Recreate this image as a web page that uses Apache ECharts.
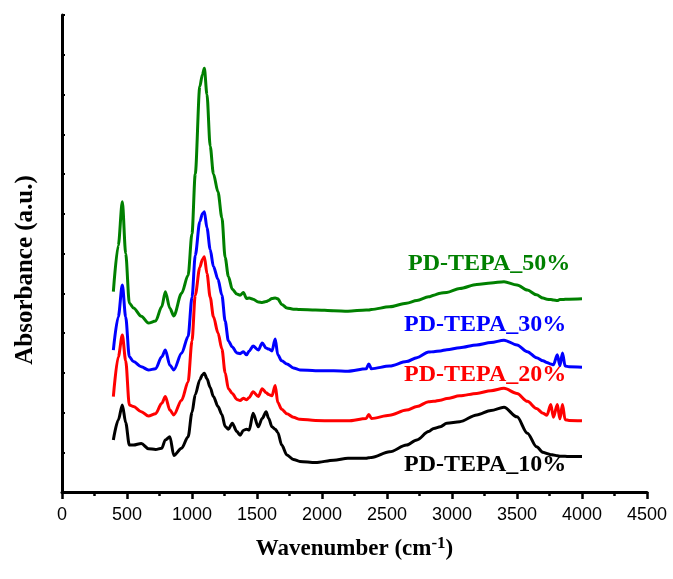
<!DOCTYPE html>
<html>
<head>
<meta charset="utf-8">
<script src="https://cdn.jsdelivr.net/npm/echarts@6/dist/echarts.min.js"></script>
<style>
  html, body { margin: 0; padding: 0; background: #fff; }
  #chart { width: 673px; height: 579px; }
</style>
</head>
<body>
<div id="chart"></div>
<script>
// wavenumbers (cm-1), shared by all four spectra
const wavenumber = [395, 433, 464, 490, 518, 550, 610, 665, 720, 767, 795, 830, 860, 920, 970,
  1000, 1025, 1060, 1080, 1095, 1115, 1140, 1165, 1200, 1230, 1255, 1280, 1310, 1345, 1370,
  1395, 1420, 1440, 1470, 1510, 1540, 1570, 1590, 1615, 1640, 1660, 1690, 1730, 1780, 1830,
  1950, 2090, 2200, 2340, 2360, 2380, 2520, 2650, 2730, 2820, 2860, 2910, 2960, 3060, 3190,
  3300, 3400, 3500, 3580, 3650, 3700, 3730, 3760, 3780, 3810, 3830, 3850, 3870, 3900, 4000];

// absorbance (arbitrary units, curves offset)
const tepa50 = [5.04, 6.2, 7.30, 6.0, 4.75, 4.63, 4.42, 4.25, 4.30, 4.66, 5.04, 4.62, 4.43, 5.0, 5.45,
  6.5, 8.0, 10.2, 10.5, 10.66, 10.0, 8.7, 8.0, 7.55, 6.9, 5.9, 5.42, 5.1, 4.98, 4.95,
  5.02, 4.87, 4.88, 4.85, 4.78, 4.77, 4.79, 4.82, 4.87, 4.88, 4.86, 4.72, 4.63, 4.60, 4.59,
  4.58, 4.56, 4.55, 4.58, 4.58, 4.59, 4.66, 4.75, 4.82, 4.91, 4.95, 5.0, 5.02, 5.12, 5.22,
  5.26, 5.29, 5.21, 5.08, 4.96, 4.88, 4.85, 4.84, 4.83, 4.82, 4.84, 4.84, 4.85, 4.85, 4.86];

const tepa30 = [3.57, 4.41, 5.21, 4.4, 3.40, 3.28, 3.15, 3.07, 3.10, 3.40, 3.57, 3.19, 3.07, 3.49, 3.91,
  4.9, 5.95, 6.8, 7.0, 7.05, 6.65, 6.1, 5.67, 5.35, 4.95, 4.3, 3.8, 3.65, 3.5, 3.48,
  3.53, 3.45, 3.55, 3.67, 3.57, 3.75, 3.62, 3.6, 3.55, 3.85, 3.45, 3.30, 3.22, 3.12, 3.07,
  3.05, 3.05, 3.04, 3.10, 3.22, 3.10, 3.17, 3.28, 3.38, 3.52, 3.53, 3.55, 3.58, 3.63, 3.70,
  3.76, 3.82, 3.70, 3.53, 3.38, 3.30, 3.26, 3.22, 3.20, 3.45, 3.18, 3.50, 3.17, 3.15, 3.14];

const tepa20 = [2.40, 3.40, 3.95, 3.3, 2.19, 2.15, 2.02, 1.91, 1.97, 2.23, 2.40, 2.06, 1.94, 2.31, 2.77,
  3.8, 4.95, 5.65, 5.85, 5.92, 5.5, 4.9, 4.41, 4.0, 3.6, 3.0, 2.6, 2.48, 2.33, 2.3,
  2.36, 2.32, 2.38, 2.52, 2.40, 2.6, 2.5, 2.45, 2.42, 2.68, 2.25, 2.08, 1.97, 1.88, 1.83,
  1.80, 1.79, 1.79, 1.85, 1.95, 1.85, 1.93, 2.06, 2.15, 2.27, 2.28, 2.31, 2.35, 2.42, 2.48,
  2.55, 2.61, 2.48, 2.28, 2.1, 1.98, 1.93, 2.2, 1.88, 2.2, 1.84, 2.2, 1.82, 1.80, 1.79];

const tepa10 = [1.31, 1.81, 2.19, 1.75, 1.18, 1.18, 1.22, 1.09, 1.07, 1.10, 1.31, 1.39, 0.92, 1.10, 1.39,
  2.0, 2.45, 2.82, 2.95, 2.99, 2.85, 2.63, 2.4, 2.15, 1.95, 1.65, 1.58, 1.73, 1.52, 1.43,
  1.55, 1.58, 1.56, 1.98, 1.64, 1.85, 2.02, 1.85, 1.64, 1.58, 1.50, 1.18, 0.93, 0.82, 0.77,
  0.74, 0.80, 0.85, 0.85, 0.86, 0.87, 1.01, 1.18, 1.31, 1.52, 1.60, 1.64, 1.73, 1.77, 1.94,
  2.05, 2.13, 1.89, 1.48, 1.14, 1.0, 0.97, 0.94, 0.93, 0.91, 0.90, 0.90, 0.90, 0.89, 0.89];

const seriesNames = ['PD-TEPA_10%', 'PD-TEPA_20%', 'PD-TEPA_30%', 'PD-TEPA_50%'];
const seriesColors = ['#000000', '#ff0000', '#0000ff', '#008000'];

document.addEventListener('DOMContentLoaded', function () {
  const myChart = echarts.init(document.getElementById('chart'));

  // pair x with y for a value/value plot
  function pairs(ys) {
    return wavenumber.map((w, i) => [w, ys[i]]);
  }

  function createSeries(name, ys, color) {
    return {
      name,
      type: 'line',
      data: pairs(ys),
      showSymbol: false,
      smooth: 0.3,
      smoothMonotone: 'x',
      lineStyle: { color, width: 3 },
      itemStyle: { color },
      silent: true
    };
  }

  const serif = '"Liberation Serif", "Times New Roman", serif';
  const labelStyle = (text, color) => ({
    text, fill: color, font: 'bold 24px ' + serif, verticalAlign: 'middle'
  });

  const option = {
    animation: false,
    grid: { left: 62, right: 26, top: 15, bottom: 87, outerBoundsMode: 'none' },
    xAxis: {
      type: 'value',
      min: 0, max: 4500, interval: 500,
      name: '{a|Wavenumber (cm}{s|-1}{a|)}',
      nameLocation: 'middle',
      nameGap: 43,
      nameTextStyle: {
        rich: {
          a: { fontFamily: serif, fontWeight: 'bold', fontSize: 23, color: '#000' },
          s: { fontFamily: serif, fontWeight: 'bold', fontSize: 17, color: '#000', verticalAlign: 'bottom', padding: [0, 0, 12, 0] }
        }
      },
      axisLine: { onZero: false, lineStyle: { color: '#000', width: 3 } },
      axisTick: { inside: false, length: 7, lineStyle: { width: 2.5 } },
      minorTick: { show: true, splitNumber: 2, length: 4, lineStyle: { color: '#000', width: 2.5 } },
      axisLabel: {
        color: '#000', fontSize: 18, fontFamily: '"Liberation Sans", Arial, sans-serif', margin: 14,
        formatter: v => String(v)
      },
      splitLine: { show: false }
    },
    yAxis: {
      type: 'value',
      min: 0, max: 12, interval: 1,
      axisLine: { show: true, onZero: false, lineStyle: { color: '#000', width: 3 } },
      axisTick: { show: true, inside: true, length: 3, lineStyle: { width: 2 } },
      axisLabel: { show: false },
      splitLine: { show: false }
    },
    series: [
      createSeries(seriesNames[0], tepa10, seriesColors[0]),
      createSeries(seriesNames[1], tepa20, seriesColors[1]),
      createSeries(seriesNames[2], tepa30, seriesColors[2]),
      createSeries(seriesNames[3], tepa50, seriesColors[3])
    ],
    graphic: [
      // y axis title
      {
        type: 'text', x: 26, y: 270, rotation: Math.PI / 2,
        style: { text: 'Absorbance (a.u.)', fill: '#000', font: 'bold 25px ' + serif, align: 'center', verticalAlign: 'middle' }
      },
      // curve labels
      { type: 'text', left: 408, top: 252, style: labelStyle(seriesNames[3], seriesColors[3]) },
      { type: 'text', left: 404, top: 313, style: labelStyle(seriesNames[2], seriesColors[2]) },
      { type: 'text', left: 404, top: 363, style: labelStyle(seriesNames[1], seriesColors[1]) },
      { type: 'text', left: 404, top: 453, style: labelStyle(seriesNames[0], seriesColors[0]) }
    ]
  };

  myChart.setOption(option);
});
</script>
</body>
</html>
